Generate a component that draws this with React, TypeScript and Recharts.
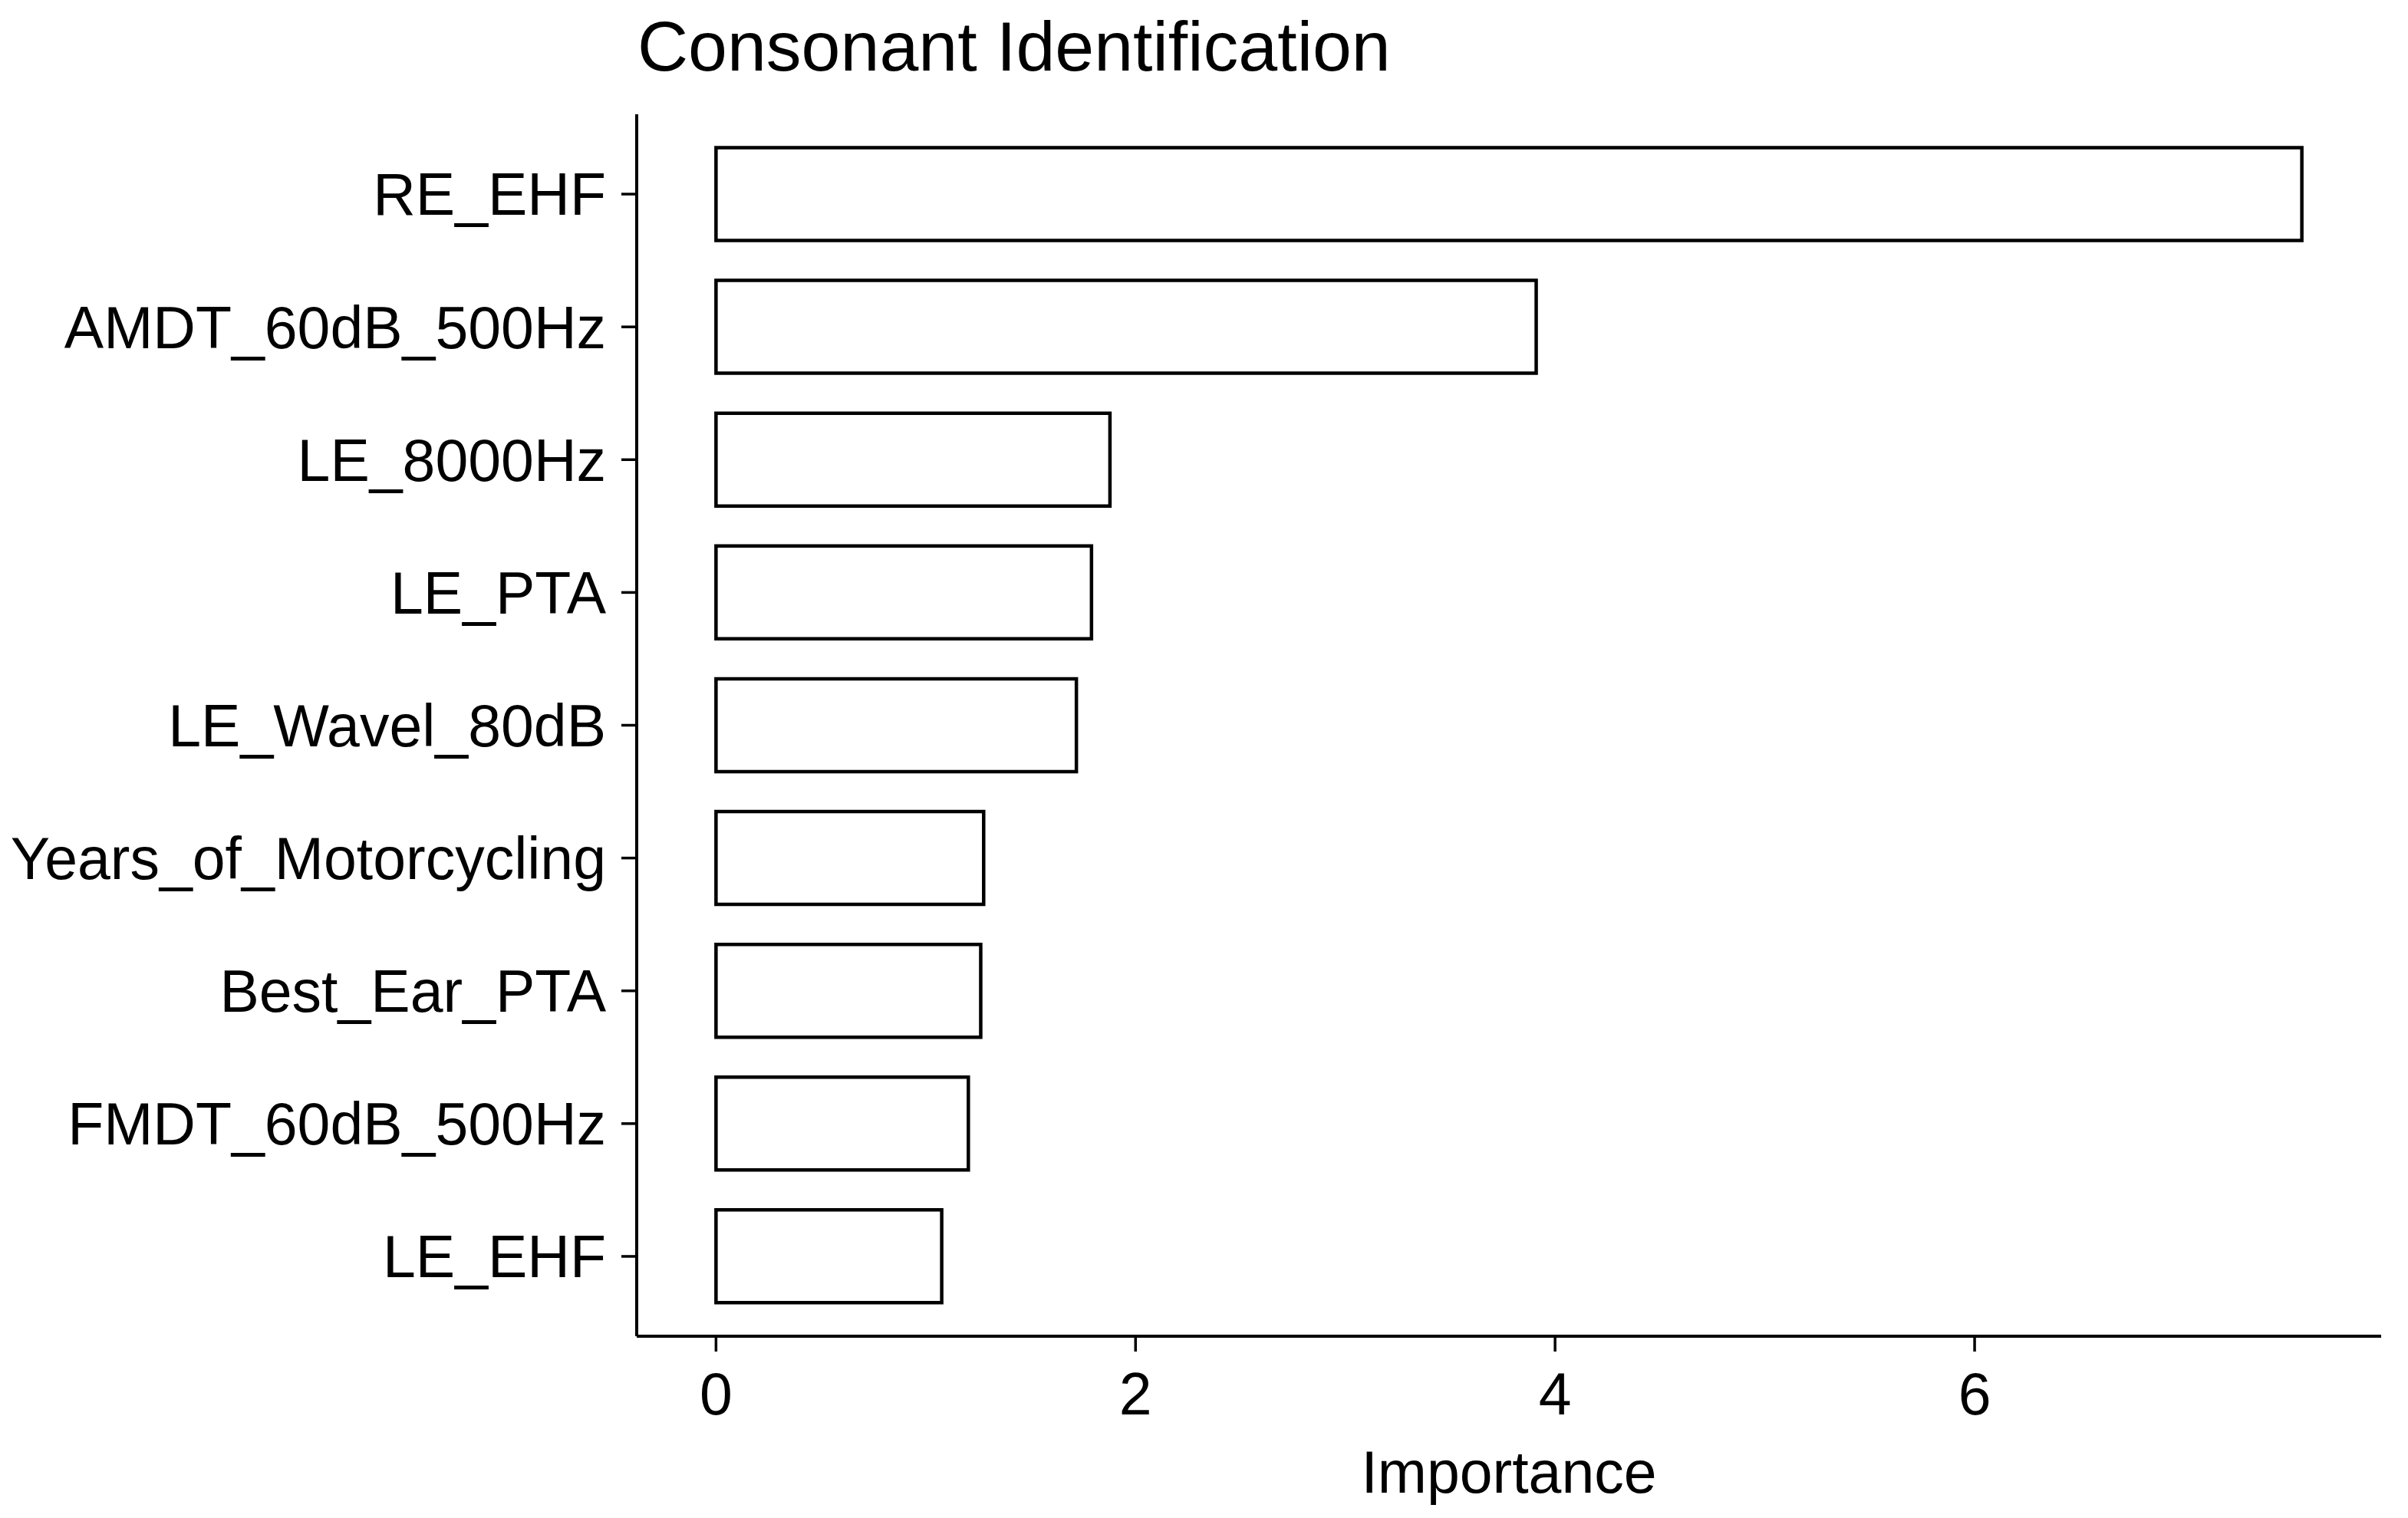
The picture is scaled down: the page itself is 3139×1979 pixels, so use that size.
import React from 'react';
import { BarChart, Bar, XAxis, YAxis } from 'recharts';

const features = [
  'RE_EHF',
  'AMDT_60dB_500Hz',
  'LE_8000Hz',
  'LE_PTA',
  'LE_Wavel_80dB',
  'Years_of_Motorcycling',
  'Best_Ear_PTA',
  'FMDT_60dB_500Hz',
  'LE_EHF',
];
const importance = [7.56, 3.91, 1.878, 1.79, 1.718, 1.276, 1.262, 1.203, 1.076];
const xTicks = [0, 2, 4, 6];
const titleText = 'Consonant Identification';
const xLabel = 'Importance';

const data = features.map((name, i) => ({ name, value: importance[i] }));
const maxVal = Math.max(...importance);
const xDomain = [-0.05 * maxVal, 1.05 * maxVal];

const FONT = '"Liberation Sans", Arial, sans-serif';
const W = 3139;
const H = 1979;

export default function App() {
  return (
    <div style={{ position: 'absolute', left: 0, top: 0, width: W, height: H, background: '#fff' }}>
      <BarChart
        width={W}
        height={H}
        data={data}
        layout="vertical"
        margin={{ top: 149, right: 35, bottom: 0, left: 0 }}
        barCategoryGap="15%"
        style={{ fontFamily: FONT }}
      >
        <XAxis
          type="number"
          domain={xDomain}
          allowDataOverflow
          ticks={xTicks}
          height={237}
          tickSize={20}
          tickMargin={27}
          axisLine={{ stroke: '#000', strokeWidth: 4 }}
          tickLine={{ stroke: '#000', strokeWidth: 3.5 }}
          tick={{ fill: '#000', fontSize: 77, fontFamily: FONT }}
          label={{ value: xLabel, position: 'insideBottom', offset: 33, fill: '#000', fontSize: 77, fontFamily: FONT }}
        />
        <YAxis
          type="category"
          dataKey="name"
          width={830}
          padding={{ top: 17.5, bottom: 17.5 }}
          tickSize={20}
          tickMargin={20}
          interval={0}
          axisLine={{ stroke: '#000', strokeWidth: 4 }}
          tickLine={{ stroke: '#000', strokeWidth: 3.5 }}
          tick={{ fill: '#000', fontSize: 77, fontFamily: FONT }}
        />
        <Bar dataKey="value" fill="#fff" stroke="#000" strokeWidth={4.5} isAnimationActive={false} />
      </BarChart>
      <svg
        width={W}
        height={140}
        style={{ position: 'absolute', left: 0, top: 0, pointerEvents: 'none' }}
      >
        <text x={831} y={92} fontSize={91.5} fontFamily={FONT} fill="#000">
          {titleText}
        </text>
      </svg>
    </div>
  );
}
